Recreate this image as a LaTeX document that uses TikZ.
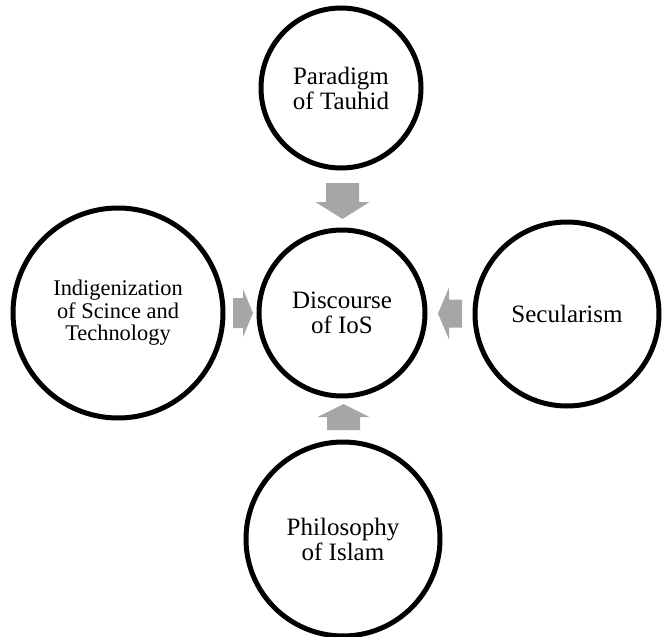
\documentclass[tikz,border=0pt]{standalone}
\usepackage{fontspec}
\setmainfont{Liberation Serif}
\usetikzlibrary{calc}
\definecolor{arrowgray}{RGB}{166,166,166}
\begin{document}
\begin{tikzpicture}[x=1pt,y=1pt,
  bubble/.style={circle, draw=black, line width=5pt, fill=white, inner sep=0pt, align=center,
    font=\fontsize{25}{25}\selectfont},
  blockarrow/.style={fill=arrowgray}]
\useasboundingbox (0,0) rectangle (665,-637);
\node[bubble, minimum size=166pt] (C) at (342,-313) {Discourse\\of IoS};
\node[bubble, minimum size=160pt] (T) at (341,-88) {Paradigm\\of Tauhid};
\node[bubble, minimum size=210pt, font=\fontsize{22.4}{22.5}\selectfont] (L) at (118,-313) {Indigenization\\of Scince and\\Technology};
\node[bubble, minimum size=184pt] (R) at (567,-314) {Secularism};
\node[bubble, minimum size=194pt] (B) at (343,-539) {Philosophy\\of Islam};
% block arrows between the circles
\coordinate (aT) at ($(T.south)!0.5!(C.north)+(1,-2)$);
\coordinate (aL) at ($(L.east)!0.5!(C.west)+(2,0)$);
\coordinate (aR) at ($(R.west)!0.5!(C.east)$);
\coordinate (aB) at ($(B.north)!0.5!(C.south)+(1,2)$);
\fill[blockarrow, shift={(aT)}, rotate=-90] (-18,-16.5) -- (1,-16.5) -- (1,-27) -- (18,0) -- (1,27) -- (1,16.5) -- (-18,16.5) -- cycle;
\fill[blockarrow, shift={(aL)}] (-10,-15) -- (0,-15) -- (0,-24) -- (10,0) -- (0,24) -- (0,15) -- (-10,15) -- cycle;
\fill[blockarrow, shift={(aR)}, rotate=180] (-12,-14) -- (1,-14) -- (1,-26) -- (12,0) -- (1,26) -- (1,14) -- (-12,14) -- cycle;
\fill[blockarrow, shift={(aB)}, rotate=90] (-13,-16.5) -- (0,-16.5) -- (0,-26) -- (13,0) -- (0,26) -- (0,16.5) -- (-13,16.5) -- cycle;
\end{tikzpicture}
\end{document}
